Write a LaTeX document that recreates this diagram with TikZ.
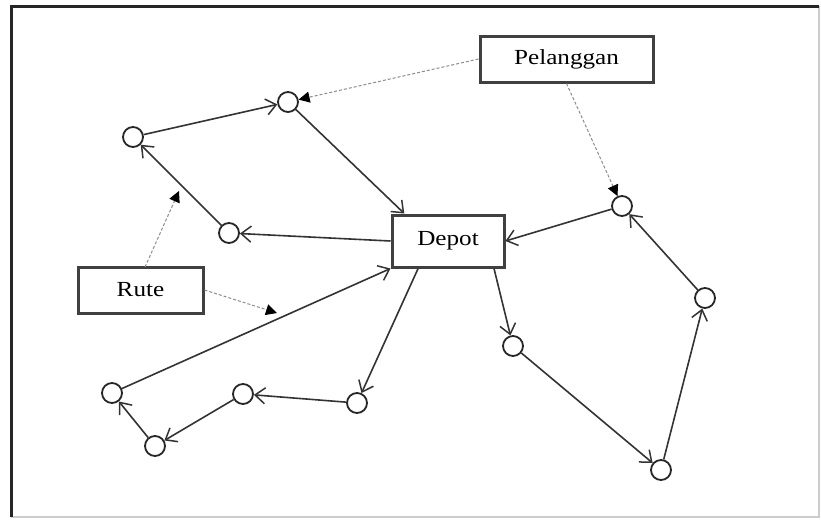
\documentclass[tikz,border=0pt]{standalone}
\usepackage{fontspec}
\setmainfont{Liberation Serif}
\usetikzlibrary{arrows.meta,calc}

\tikzset{
  stop/.style={circle,draw=black!85,line width=1.8pt,minimum size=20pt,inner sep=0pt},
  label box/.style={draw=black!75,line width=3pt,fill=white,inner sep=0pt,
    font=\fontsize{21.5}{24}\selectfont},
  route/.style={draw=black!80,line width=1.6pt,
    -{Straight Barb[length=10pt,width=16pt,line width=1.5pt]}},
  pointer/.style={draw=black!45,line width=1pt,dash pattern=on 3pt off 2pt,
    -{Triangle[length=11pt,width=11pt,fill=black,color=black]}}
}

\begin{document}
\begin{tikzpicture}[x=1pt,y=-1pt]
  \useasboundingbox (0,0) rectangle (821,520);

  % frame
  \draw[black!20,line width=1.5pt] (819,6) -- (819,517) -- (11,517);
  \draw[black!85,line width=3pt] (11,517) -- (11,6) -- (819,6);

  % labelled boxes
  \node[label box,minimum width=173pt,minimum height=46pt] (pel) at (566.5,59)
    {\scalebox{1.17}[1]{Pelanggan}};
  \node[label box,minimum width=112pt,minimum height=52pt] (depot) at (448,241)
    {\scalebox{1.17}[1]{Depot}};
  \node[label box,minimum width=125pt,minimum height=46pt] (rute) at (140.5,290)
    {\scalebox{1.17}[1]{Rute}};

  % customers
  \node[stop] (A) at (288,102) {};
  \node[stop] (B) at (133,137) {};
  \node[stop] (C) at (229,233) {};
  \node[stop] (D) at (622,206) {};
  \node[stop] (E) at (705,298) {};
  \node[stop] (F) at (513,346) {};
  \node[stop] (G) at (112,393) {};
  \node[stop] (H) at (243,394) {};
  \node[stop] (I) at (357,403) {};
  \node[stop] (J) at (155,446) {};
  \node[stop] (K) at (661,470) {};

  % attachment points on the depot
  \coordinate (dA) at ($(depot.north west)!0.12!(depot.north east)$);
  \coordinate (dI) at ($(depot.south west)!0.24!(depot.south east)$);
  \coordinate (dF) at ($(depot.south west)!0.9!(depot.south east)$);

  % route 1
  \draw[route] (depot.west) -- (C);
  \draw[route] (C) -- (B);
  \draw[route] (B) -- (A);
  \draw[route] (A) -- (dA);

  % route 2
  \draw[route] (dF) -- (F);
  \draw[route] (F) -- (K);
  \draw[route] (K) -- (E);
  \draw[route] (E) -- (D);
  \draw[route] (D) -- (depot.east);

  % route 3
  \draw[route] (dI) -- (I);
  \draw[route] (I) -- (H);
  \draw[route] (H) -- (J);
  \draw[route] (J) -- (G);
  \draw[route] (G) -- (depot.south west);

  % pointers from the labels
  \coordinate (rA) at (145,267);
  \coordinate (tipA) at (179,191);
  \coordinate (tipB) at (277,313);
  \draw[pointer] (pel.west) -- (A);
  \draw[pointer] (pel.south) -- (D);
  \draw[pointer] (rA) -- (tipA);
  \draw[pointer] (rute.east) -- (tipB);
\end{tikzpicture}
\end{document}
